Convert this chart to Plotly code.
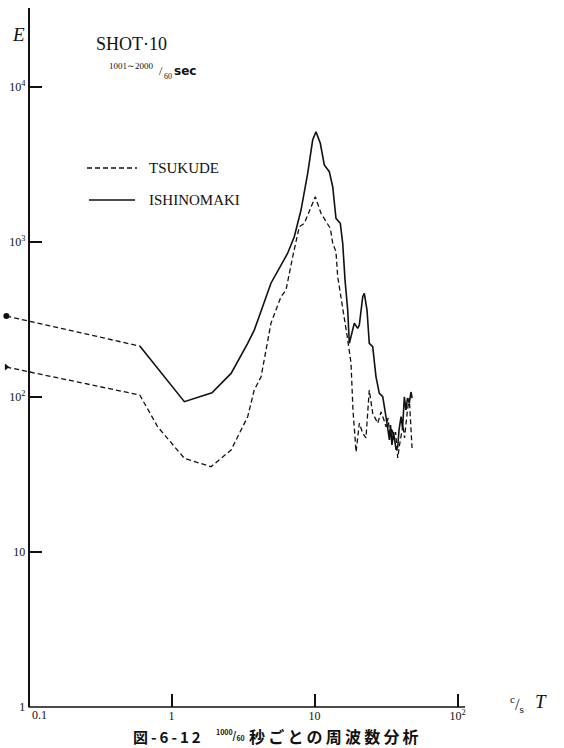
import plotly.graph_objects as go

# ---------------- data ----------------
freq_tsukude = [0.07, 0.6, 0.80, 1.23, 1.89, 2.61, 3.41, 3.79, 4.23, 4.83, 4.96,
                5.83, 6.32, 7.04, 7.83, 8.49, 9.45, 10.13, 11.1, 12.03, 12.9,
                13.41, 14.13, 14.53, 15.75, 16.88, 18.0, 18.58, 19.54, 20.58,
                21.74, 22.9, 24.16, 25.53, 27.7, 29.2,
                30.6, 31.6, 32.7, 33.7, 34.8, 36.0, 36.9, 38.2, 39.3, 40.3,
                41.6, 42.6, 43.6, 44.7, 46.0, 46.9, 48.1]
energy_tsukude = [156, 103, 64.3, 40.2, 35.5, 45.5, 74.6, 111, 135, 258, 299,
                  444, 490, 804, 1255, 1320, 1682, 1960, 1531, 1352, 1225,
                  981, 866, 597, 382, 251, 166, 82.4, 44.2, 67.7,
                  58.3, 54.4, 111, 78.5, 67.7, 80,
                  71, 64.3, 73.2, 56.0, 63.0, 52.8, 59.4, 40.4, 49.0, 55.5,
                  65.9, 54.4, 71, 82.4, 98.5, 65.9, 46.9]

freq_ishinomaki = [0.07, 0.6, 1.23, 1.92, 2.61, 3.41, 3.79, 4.96, 6.49, 7.22,
                   8.05, 8.96, 9.71, 10.24, 10.98, 11.71, 12.69, 13.41, 14.13,
                   15.15, 15.75, 16.35, 17.07, 17.52, 18.98, 20.05, 20.58,
                   21.74, 22.3, 23.29, 24.16, 25.53, 26.92, 28.4, 30.0,
                   31.6, 32.4, 33.4, 34.0, 34.8, 35.7, 36.1, 37.2, 38.2, 39.0,
                   40.3, 41.3, 42.5, 43.6, 44.7, 46.0, 47.3, 48.1]
energy_ishinomaki = [333, 213, 93.3, 106.6, 142, 222, 270, 542, 846, 1082,
                     1608, 2774, 4550, 5150, 4333, 3140, 2842, 2274, 1422,
                     1320, 981, 568, 364, 222, 299, 277, 291,
                     444, 467, 364, 222, 211, 135, 105.6, 100.4,
                     74.6, 61.2, 52.8, 65.9, 49.0, 59.4, 55.5, 45.5, 47.8, 61.2,
                     74.6, 63.0, 100.4, 82.4, 98.5, 91.5, 107.7, 98.5]

x_tickvals = [1, 10, 100]
x_ticktext = ["1", "10", "10<sup>2</sup>"]
y_tickvals = [1, 10, 100, 1000, 10000]
y_ticktext = ["1", "10", "10<sup>2</sup>", "10<sup>3</sup>", "10<sup>4</sup>"]

# ---------------- layout geometry ----------------
W, H = 564, 748
ML, MR, MT, MB = 0, 84, 8, 41
PW = W - ML - MR
PH = H - MT - MB


def xp(px):
    return (px - ML) / PW


def yp(py):
    return (H - MB - py) / PH


BLACK = "#111111"
SERIF = "Liberation Serif, Times New Roman, serif"
CJK = "Noto Sans CJK JP, sans-serif"
DASH = "5px,3px"

fig = go.Figure()

fig.add_trace(go.Scatter(
    x=freq_tsukude, y=energy_tsukude, mode="lines", name="TSUKUDE",
    line=dict(color=BLACK, width=1.3, dash=DASH), showlegend=False))

fig.add_trace(go.Scatter(
    x=freq_ishinomaki[:2], y=energy_ishinomaki[:2], mode="lines",
    line=dict(color=BLACK, width=1.3, dash=DASH), showlegend=False,
    hoverinfo="skip"))
fig.add_trace(go.Scatter(
    x=freq_ishinomaki[1:], y=energy_ishinomaki[1:], mode="lines",
    name="ISHINOMAKI", line=dict(color=BLACK, width=1.6), showlegend=False))

fig.add_trace(go.Scatter(
    x=freq_ishinomaki[:1], y=energy_ishinomaki[:1], mode="markers",
    marker=dict(symbol="circle", size=6, color=BLACK), showlegend=False))
fig.add_trace(go.Scatter(
    x=freq_tsukude[:1], y=energy_tsukude[:1], mode="markers",
    marker=dict(symbol="triangle-right", size=6, color=BLACK), showlegend=False))

axis_x_px = 28.5
x_lo = -1 - (axis_x_px - ML) / 143.0
x_hi = -1 + (W - MR - axis_x_px) / 143.0

fig.update_layout(
    width=W, height=H,
    margin=dict(l=ML, r=MR, t=MT, b=MB, pad=0, autoexpand=False),
    paper_bgcolor="white", plot_bgcolor="white",
    showlegend=False,
    xaxis=dict(type="log", range=[x_lo, x_hi], showline=False, showgrid=False,
               zeroline=False, ticks="inside", ticklen=13, tickwidth=1.5,
               tickcolor=BLACK, tickvals=x_tickvals, ticktext=x_ticktext,
               automargin=False,
               tickfont=dict(family=SERIF, size=12, color=BLACK)),
    yaxis=dict(type="log", range=[0, PH / 155.0], anchor="free",
               position=xp(axis_x_px), showline=True, linecolor=BLACK,
               linewidth=1.5, showgrid=False, zeroline=False, ticks="inside",
               ticklen=13, tickwidth=2, tickcolor=BLACK, automargin=False,
               tickvals=y_tickvals, ticktext=y_ticktext,
               tickfont=dict(family=SERIF, size=12, color=BLACK)),
)

shapes = [
    # x axis line starting at the y axis
    dict(type="line", xref="paper", yref="paper", x0=xp(axis_x_px), x1=xp(465),
         y0=0, y1=0, line=dict(color=BLACK, width=1.5)),
    # legend samples
    dict(type="line", xref="paper", yref="paper", x0=xp(87), x1=xp(137),
         y0=yp(168), y1=yp(168), line=dict(color=BLACK, width=1.3, dash=DASH)),
    dict(type="line", xref="paper", yref="paper", x0=xp(89), x1=xp(135),
         y0=yp(200), y1=yp(200), line=dict(color=BLACK, width=1.6)),
]
fig.update_layout(shapes=shapes)


def ann(text, x, y, size, family=SERIF, xanchor="left", **kw):
    fig.add_annotation(text=text, x=xp(x), y=yp(y), xref="paper", yref="paper",
                       xanchor=xanchor, yanchor="middle", showarrow=False,
                       font=dict(family=family, size=size, color=BLACK), **kw)


TS = "\u2009"
ann("<i>E</i>", 18, 34, 19, xanchor="center")
ann("SHOT·10", 94, 44, 18)
ann("1001∼2000", 107, 66, 9)
ann("/", 157, 71, 12)
ann("60", 162, 76, 8)
ann("<b>sec</b>", 172, 71, 12, family="DejaVu Sans, sans-serif")
ann("TSUKUDE", 147, 168, 15)
ann("ISHINOMAKI", 147, 200, 15)
ann("0.1", 39, 715, 12, xanchor="center")
ann("<sup>c</sup>/<sub>s</sub>", 508, 704, 16)
ann("<i>T</i>", 533, 701, 19)
ann("<b>" + TS.join("図-6-12") + "</b>", 131, 736, 15, family=CJK)
ann("<b><sup>1000</sup>/<sub>60</sub></b>", 247, 735, 10, family=CJK,
    xanchor="right")
ann("<b>" + TS.join("秒ごとの周波数分析") + "</b>", 247, 736, 16, family=CJK)

fig.write_html("out.html",
               config={"displayModeBar": False},
               post_script="document.body.style.margin='0';"
                           "document.body.style.overflow='hidden';")
